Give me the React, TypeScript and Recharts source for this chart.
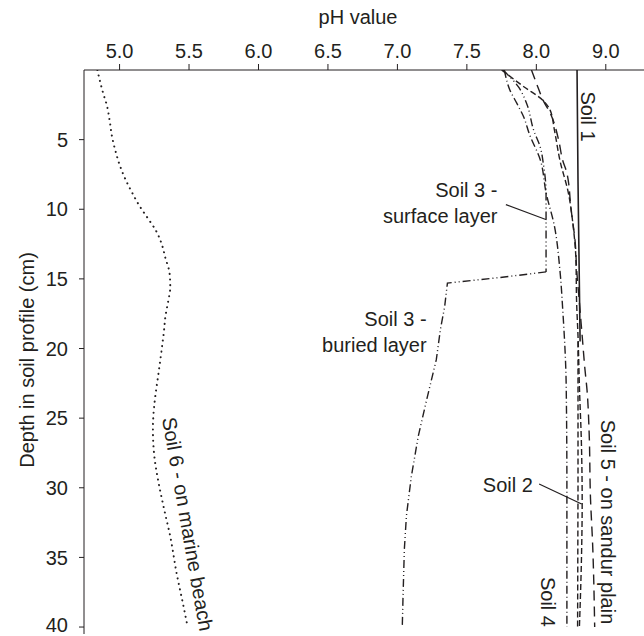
import React from "react";
import { LineChart, Line, XAxis, YAxis, ReferenceDot, ReferenceLine } from "recharts";

const INK = "#231f20";
const FONT = "'Liberation Sans', Arial, sans-serif";
const FS = 20;

const xTicks = [5, 5.5, 6, 6.5, 7, 7.5, 8, 8.5];
const xTickLabels = ["5.0", "5.5", "6.0", "6.5", "7.0", "7.5", "8.0", "9.0"];
const yTicks = [5, 10, 15, 20, 25, 30, 35, 40];

// each point is [pH, depth in cm]
const soil1 = [[8.293, 0], [8.3, 8], [8.315, 19.5]];
const soil1Lower = [[8.3, 19.5], [8.3, 30], [8.297, 40]];
const soil2 = [
  [7.75, 0], [7.91, 1.2], [8.05, 2.2], [8.1, 2.9], [8.13, 4.3], [8.17, 6.5], [8.23, 8.8],
  [8.265, 11.2], [8.285, 13.6], [8.29, 16.7], [8.3, 19.1], [8.31, 22.7], [8.325, 27],
  [8.33, 31], [8.325, 35], [8.31, 40],
];
const soil3Surface = [
  [7.76, 0], [7.87, 1.2], [7.93, 2.4], [7.98, 4.3], [8.03, 5.6], [8.05, 6.7], [8.07, 8.8], [8.07, 14.5],
];
const soil3Buried = [
  [8.07, 14.5], [7.74, 14.9], [7.36, 15.3], [7.34, 17], [7.31, 18.6], [7.28, 20.8], [7.21, 23.7],
  [7.15, 26.3], [7.1, 29.2], [7.065, 32], [7.05, 34.4], [7.04, 38], [7.035, 40],
];
const soil4 = [
  [7.77, 0], [7.81, 1.45], [7.86, 2.4], [7.91, 3.4], [7.95, 4.6], [8.03, 6.5], [8.07, 8.8],
  [8.13, 11.2], [8.17, 14.4], [8.19, 17.2], [8.215, 22.7], [8.22, 30], [8.22, 40],
];
const soil5 = [
  [7.965, 0], [8.01, 1.2], [8.05, 2.2], [8.1, 3.1], [8.16, 5], [8.19, 6.5], [8.22, 7.4],
  [8.25, 10], [8.28, 12.4], [8.29, 14.3], [8.31, 16.7], [8.33, 19.1], [8.35, 21.5],
  [8.365, 23], [8.38, 26], [8.39, 30.8], [8.405, 34], [8.42, 40],
];
const soil6 = [
  [4.84, 0], [4.88, 1.6], [4.91, 2.6], [4.93, 3.7], [4.945, 4.75], [4.97, 5.8], [5.0, 6.8],
  [5.04, 7.8], [5.09, 8.8], [5.14, 9.7], [5.2, 10.6], [5.26, 11.5], [5.3, 12.4], [5.33, 13.5],
  [5.36, 14.6], [5.365, 15.6], [5.35, 16.6], [5.33, 17.7], [5.32, 18.7], [5.3, 20.3],
  [5.28, 21.8], [5.26, 23.2], [5.245, 24.6], [5.24, 25.8], [5.25, 27.7], [5.28, 29.6],
  [5.32, 31.5], [5.365, 33.5], [5.41, 36.1], [5.46, 38.5], [5.49, 40],
];

const toPts = (arr: number[][]) => arr.map(([ph, d]) => ({ ph, d }));

function Annot(props: any) {
  const { viewBox, lines, rot = 0, anchor = "middle", lh = 26.5 } = props;
  const x = viewBox.x;
  const y = viewBox.y;
  const n = lines.length;
  return (
    <text
      x={x}
      y={y}
      transform={rot ? `rotate(${rot}, ${x}, ${y})` : undefined}
      textAnchor={anchor}
      fill={INK}
      fontSize={FS}
      fontFamily={FONT}
    >
      {lines.map((s: string, i: number) => (
        <tspan key={i} x={x} dy={i === 0 ? 7 - ((n - 1) * lh) / 2 : lh}>
          {s}
        </tspan>
      ))}
    </text>
  );
}

const seriesStyle = { stroke: INK, strokeWidth: 1.4, dot: false, isAnimationActive: false, activeDot: false };

export default function App() {
  return (
    <div style={{ position: "absolute", left: 0, top: 0, background: "#fff" }}>
      <LineChart width={644} height={636} margin={{ top: 0, right: 0, bottom: 2, left: 0 }}>
        <XAxis
          type="number"
          dataKey="ph"
          orientation="top"
          domain={[4.744, 8.775]}
          allowDataOverflow
          ticks={xTicks}
          tickFormatter={(v: number, i: number) => xTickLabels[i]}
          height={70}
          tickSize={6}
          tickMargin={6}
          stroke={INK}
          tick={{ fill: INK, fontSize: FS, fontFamily: FONT }}
          label={{
            content: (p: any) => (
              <text x={p.viewBox.x + p.viewBox.width / 2 - 6} y={24} textAnchor="middle" fill={INK} fontSize={FS} fontFamily={FONT}>
                pH value
              </text>
            ),
          }}
        />
        <YAxis
          type="number"
          dataKey="d"
          reversed
          domain={[0, 40.5]}
          allowDataOverflow
          ticks={yTicks}
          width={84}
          tickSize={5}
          tickMargin={11}
          stroke={INK}
          tick={{ fill: INK, fontSize: FS, fontFamily: FONT }}
          label={{
            content: (p: any) => {
              const cx = 27;
              const cy = p.viewBox.y + p.viewBox.height / 2 + 8;
              return (
                <text x={cx} y={cy} transform={`rotate(-90, ${cx}, ${cy})`} textAnchor="middle" dominantBaseline="central" fill={INK} fontSize={FS} fontFamily={FONT}>
                  Depth in soil profile (cm)
                </text>
              );
            },
          }}
        />

        <Line data={toPts(soil6)} dataKey="d" type="monotoneY" {...seriesStyle} strokeDasharray="0.1 5.5" strokeLinecap="round" strokeWidth={2} />
        <Line data={toPts(soil3Surface)} dataKey="d" type="monotoneY" {...seriesStyle} strokeDasharray="8 3 1 3 1 3" />
        <Line data={toPts(soil3Buried)} dataKey="d" type="linear" {...seriesStyle} strokeDasharray="8 3 1 3 1 3" />
        <Line data={toPts(soil4)} dataKey="d" type="monotoneY" {...seriesStyle} strokeDasharray="8 3 1 3" />
        <Line data={toPts(soil5)} dataKey="d" type="monotoneY" {...seriesStyle} strokeDasharray="10 6" />
        <Line data={toPts(soil2)} dataKey="d" type="monotoneY" {...seriesStyle} strokeDasharray="6 3" />
        <Line data={toPts(soil1Lower)} dataKey="d" type="linear" {...seriesStyle} strokeDasharray="6 3" />
        <Line data={toPts(soil1)} dataKey="d" type="linear" {...seriesStyle} strokeWidth={1.6} />

        <ReferenceLine segment={[{ x: 7.781, y: 9.67 }, { x: 8.073, y: 10.75 }]} stroke={INK} strokeWidth={1.2} ifOverflow="visible" />
        <ReferenceLine segment={[{ x: 8.02, y: 29.73 }, { x: 8.326, y: 31.17 }]} stroke={INK} strokeWidth={1.2} ifOverflow="visible" />

        <ReferenceDot x={8.372} y={3.34} r={0} fill="none" stroke="none" ifOverflow="visible"
          label={<Annot lines={["Soil 1"]} rot={90} />} />
        <ReferenceDot x={7.72} y={9.55} r={0} fill="none" stroke="none" ifOverflow="visible"
          label={<Annot lines={["Soil 3 -", "surface layer"]} anchor="end" />} />
        <ReferenceDot x={7.21} y={18.83} r={0} fill="none" stroke="none" ifOverflow="visible"
          label={<Annot lines={["Soil 3 -", "buried layer"]} anchor="end" />} />
        <ReferenceDot x={7.975} y={29.8} r={0} fill="none" stroke="none" ifOverflow="visible"
          label={<Annot lines={["Soil 2"]} anchor="end" />} />
        <ReferenceDot x={8.516} y={32.46} r={0} fill="none" stroke="none" ifOverflow="visible"
          label={<Annot lines={["Soil 5 - on sandur plain"]} rot={90} />} />
        <ReferenceDot x={8.084} y={38.2} r={0} fill="none" stroke="none" ifOverflow="visible"
          label={<Annot lines={["Soil 4"]} rot={90} />} />
        <ReferenceDot x={5.49} y={32.6} r={0} fill="none" stroke="none" ifOverflow="visible"
          label={<Annot lines={["Soil 6 - on marine beach"]} rot={80} />} />
      </LineChart>
    </div>
  );
}
